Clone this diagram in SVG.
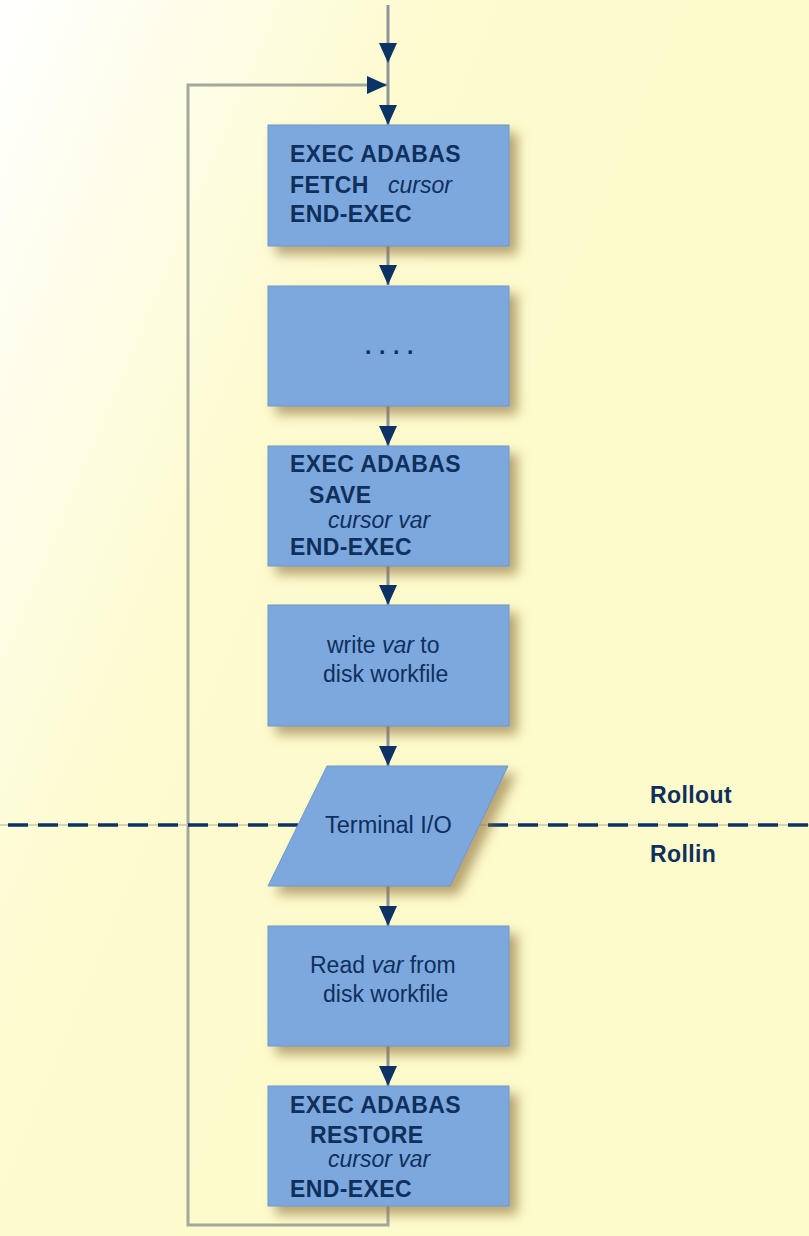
<svg xmlns="http://www.w3.org/2000/svg" width="809" height="1236" viewBox="0 0 809 1236">
<defs>
<linearGradient id="bg" x1="0" y1="0" x2="0.7" y2="0.45">
<stop offset="0" stop-color="#ffffff"/>
<stop offset="0.55" stop-color="#fdfbcf"/>
<stop offset="1" stop-color="#fdfbcc"/>
</linearGradient>
<filter id="sh" x="-20%" y="-20%" width="150%" height="150%">
<feDropShadow dx="8" dy="8" stdDeviation="6" flood-color="#8a6a35" flood-opacity="0.6"/>
</filter>
<marker id="arr" viewBox="0 0 20 18" refX="20" refY="9" markerWidth="20" markerHeight="18" markerUnits="userSpaceOnUse" orient="auto">
<path d="M0,0 L20,9 L0,18 z" fill="#0c3366"/>
</marker>
<style>
.box{fill:#7ca8de;stroke:#6e98cc;stroke-width:1;filter:url(#sh)}
.ln{fill:none;stroke:#8d949c;stroke-width:3}
.b{font-family:"Liberation Sans",Arial,sans-serif;font-weight:bold;font-size:23px;fill:#0f2f5c;letter-spacing:0.4px}
.r{font-family:"Liberation Sans",Arial,sans-serif;font-size:23px;fill:#0f2f5c}
.i{font-style:italic;font-weight:normal;letter-spacing:0}
</style>
</defs>
<rect x="0" y="0" width="809" height="1236" fill="url(#bg)"/>

<g id="connectors">
<path class="ln" d="M388,5 V63" marker-end="url(#arr)"/>
<path class="ln" d="M388,63 V125" marker-end="url(#arr)"/>
<path class="ln" style="stroke:#a4a79c" d="M388,1206 V1225 H188 V85 H387" marker-end="url(#arr)"/>
<path class="ln" d="M388,246 V285" marker-end="url(#arr)"/>
<path class="ln" d="M388,406 V446" marker-end="url(#arr)"/>
<path class="ln" d="M388,566 V605" marker-end="url(#arr)"/>
<path class="ln" d="M388,726 V766" marker-end="url(#arr)"/>
<path class="ln" d="M388,886 V926" marker-end="url(#arr)"/>
<path class="ln" d="M388,1046 V1086" marker-end="url(#arr)"/>
</g>

<g id="divider">
<line x1="0" y1="825" x2="809" y2="825" stroke="#c9c7a4" stroke-width="1.5"/>
<line x1="8" y1="825" x2="809" y2="825" stroke="#0c3366" stroke-width="3.5" stroke-dasharray="20 10"/>
<text class="b" x="650" y="803">Rollout</text>
<text class="b" x="650" y="862">Rollin</text>
</g>

<g id="fetch">
<rect class="box" x="268" y="125" width="241" height="121"/>
<text class="b" x="290" y="162">EXEC ADABAS</text>
<text class="b" x="290" y="193">FETCH</text>
<text class="r i" x="388" y="193">cursor</text>
<text class="b" x="290" y="222">END-EXEC</text>
</g>

<g id="dots">
<rect class="box" x="268" y="286" width="241" height="120"/>
<text class="b" x="365" y="354" style="letter-spacing:0.6px">. . . .</text>
</g>

<g id="save">
<rect class="box" x="268" y="446" width="241" height="120"/>
<text class="b" x="290" y="472">EXEC ADABAS</text>
<text class="b" x="309" y="503">SAVE</text>
<text class="r i" x="328" y="528">cursor var</text>
<text class="b" x="290" y="555">END-EXEC</text>
</g>

<g id="write">
<rect class="box" x="268" y="605" width="241" height="121"/>
<text class="r" x="327" y="653">write <tspan font-style="italic">var</tspan> to</text>
<text class="r" x="323" y="682">disk workfile</text>
</g>

<g id="terminal">
<polygon class="box" points="327,766 508,766 450,886 268,886"/>
<text class="r" x="325" y="833" style="font-size:23.5px">Terminal I/O</text>
</g>

<g id="read">
<rect class="box" x="268" y="926" width="241" height="120"/>
<text class="r" x="310" y="973">Read <tspan font-style="italic">var</tspan> from</text>
<text class="r" x="323" y="1002">disk workfile</text>
</g>

<g id="restore">
<rect class="box" x="268" y="1086" width="241" height="120"/>
<text class="b" x="290" y="1113">EXEC ADABAS</text>
<text class="b" x="310" y="1143">RESTORE</text>
<text class="r i" x="328" y="1167">cursor var</text>
<text class="b" x="290" y="1197">END-EXEC</text>
</g>
</svg>
